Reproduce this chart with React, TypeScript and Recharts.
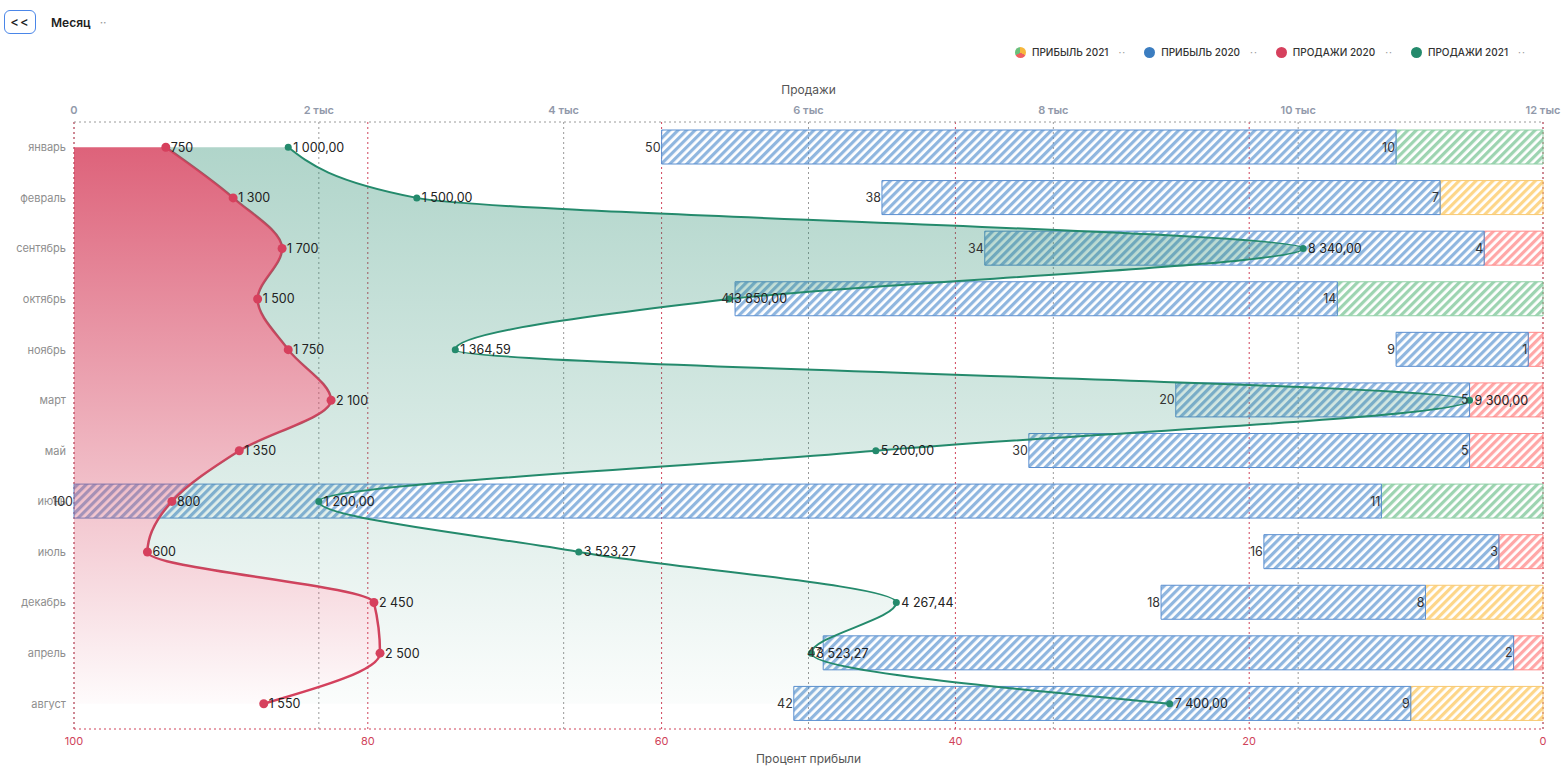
import React from "react";
import { ComposedChart, Bar, Area, XAxis, YAxis, CartesianGrid, LabelList, Cell } from "recharts";

const months = ["январь", "февраль", "сентябрь", "октябрь", "ноябрь", "март", "май", "июнь", "июль", "декабрь", "апрель", "август"];
const sales2020 = [750, 1300, 1700, 1500, 1750, 2100, 1350, 800, 600, 2450, 2500, 1550];
const sales2021 = [1000, 1500, 8340, 3850, 1364.59, 9300, 5200, 1200, 3523.27, 4267.44, 3523.27, 7400];
const profit2020 = [50, 38, 34, 41, 9, 20, 30, 100, 16, 18, 47, 42];
const profit2021 = [10, 7, 4, 14, 1, 5, 5, 11, 3, 8, 2, 9];

const salesTicks = [0, 2000, 4000, 6000, 8000, 10000, 12000];
const pctTicks = [0, 20, 40, 60, 80, 100];

const data = months.map((month, i) => ({
  month,
  s2020: sales2020[i],
  s2021: sales2021[i],
  p2020: profit2020[i],
  p2021: profit2021[i],
}));

const RED = "#d6405d";
const GREEN = "#248a6c";
const AXIS_RED = "#d0435a";
const FONT = "Inter, 'Noto Sans', sans-serif";

const fmtInt = new Intl.NumberFormat("ru-RU", { maximumFractionDigits: 0 });
const fmtDec = new Intl.NumberFormat("ru-RU", { minimumFractionDigits: 2, maximumFractionDigits: 2 });

const HATCH = {
  blue: { fill: "rgba(74,137,204,0.62)", stroke: "#5b8fd0" },
  green: { fill: "rgba(60,170,100,0.5)", stroke: "#8fd0a6" },
  yellow: { fill: "rgba(252,180,40,0.55)", stroke: "#f8c870" },
  red: { fill: "rgba(255,80,80,0.5)", stroke: "#ff8a8a" },
};

function profitTone(v: number): keyof typeof HATCH {
  if (v >= 10) return "green";
  if (v >= 6) return "yellow";
  return "red";
}

function BarValue(props: any) {
  const x = Number(props.x);
  const w = Number(props.width);
  const y = Number(props.y);
  const h = Number(props.height);
  const left = Math.min(x, x + w);
  return (
    <text x={left - 1} y={y + h / 2} dy={4.5} textAnchor="end" fontSize={12.5} fill="#333">
      {props.value}
    </text>
  );
}

function LegendItem({ label, icon }: { label: string; icon: React.ReactNode }) {
  return (
    <div style={{ display: "flex", alignItems: "center", marginRight: 18 }}>
      {icon}
      <span style={{ marginLeft: 6, fontSize: 10, fontWeight: 500, color: "#333" }}>{label}</span>
      <span style={{ marginLeft: 10, fontSize: 10, color: "#999", letterSpacing: 1 }}>··</span>
    </div>
  );
}

const dotIcon = (color: string) => (
  <span style={{ width: 11, height: 11, borderRadius: "50%", background: color, display: "inline-block" }} />
);

export default function App() {
  return (
    <div style={{ position: "absolute", left: 0, top: 0, width: 1561, height: 774, background: "#fff", fontFamily: FONT, overflow: "hidden" }}>
      <div
        style={{
          position: "absolute", left: 4, top: 10, width: 30, height: 22, border: "1px solid #4a86e8", borderRadius: 6,
          display: "flex", alignItems: "center", justifyContent: "center", fontSize: 13, fontWeight: 500, color: "#222", letterSpacing: 1,
        }}
      >
        {"<<"}
      </div>
      <div style={{ position: "absolute", left: 51, top: 15, fontSize: 12, fontWeight: 600, color: "#222" }}>
        Месяц <span style={{ marginLeft: 6, color: "#999", fontWeight: 400 }}>··</span>
      </div>

      <div style={{ position: "absolute", left: 1015, top: 46, display: "flex" }}>
        <LegendItem
          label="ПРИБЫЛЬ 2021"
          icon={<span style={{ width: 11, height: 11, borderRadius: "50%", display: "inline-block", background: "conic-gradient(#f6b73c 0 120deg, #f06060 120deg 240deg, #6bbf7a 240deg 360deg)" }} />}
        />
        <LegendItem label="ПРИБЫЛЬ 2020" icon={dotIcon("#3b7dc0")} />
        <LegendItem label="ПРОДАЖИ 2020" icon={dotIcon(RED)} />
        <LegendItem label="ПРОДАЖИ 2021" icon={dotIcon(GREEN)} />
      </div>

      <div style={{ position: "absolute", left: 0, width: 1617, top: 82, textAlign: "center", fontSize: 12, color: "#555" }}>Продажи</div>
      <div style={{ position: "absolute", left: 0, width: 1617, top: 751, textAlign: "center", fontSize: 12, color: "#555" }}>Процент прибыли</div>

      <ComposedChart
        width={1561}
        height={774}
        data={data}
        layout="vertical"
        margin={{ top: 92, right: 18, bottom: 15, left: 8 }}
        barSize={34}
      >
        <defs>
          {Object.entries(HATCH).map(([k, v]) => (
            <pattern key={k} id={`hatch-${k}`} patternUnits="userSpaceOnUse" width={6} height={6} patternTransform="rotate(45)">
              <rect x={0} y={0} width={3.2} height={6} fill={v.fill} />
            </pattern>
          ))}
          <linearGradient id="gradRed" x1="0" y1="0" x2="0" y2="1">
            <stop offset="0" stopColor={RED} stopOpacity={0.82} />
            <stop offset="1" stopColor={RED} stopOpacity={0.02} />
          </linearGradient>
          <linearGradient id="gradGreen" x1="0" y1="0" x2="0" y2="1">
            <stop offset="0" stopColor={GREEN} stopOpacity={0.36} />
            <stop offset="1" stopColor={GREEN} stopOpacity={0.02} />
          </linearGradient>
        </defs>

        <CartesianGrid xAxisId="sales" horizontal={false} stroke="#9a9a9a" strokeDasharray="2 3" />
        <CartesianGrid xAxisId="pct" horizontal={false} stroke={AXIS_RED} strokeDasharray="2 3" />

        <XAxis
          xAxisId="sales"
          orientation="top"
          type="number"
          domain={[0, 12000]}
          ticks={salesTicks}
          height={30}
          tickFormatter={(v: number) => (v === 0 ? "0" : `${v / 1000} тыс`)}
          tick={{ fill: "#9199aa", fontSize: 11, fontWeight: 600 }}
          tickLine={false}
          axisLine={{ stroke: "#9a9a9a", strokeDasharray: "2 3" }}
        />
        <XAxis
          xAxisId="pct"
          orientation="bottom"
          type="number"
          reversed
          domain={[0, 100]}
          ticks={pctTicks}
          height={30}
          tick={{ fill: AXIS_RED, fontSize: 11 }}
          tickLine={false}
          axisLine={{ stroke: AXIS_RED, strokeDasharray: "2 3" }}
        />
        <YAxis
          type="category"
          dataKey="month"
          width={66}
          tick={{ fill: "#8e8e8e", fontSize: 11 }}
          tickLine={false}
          axisLine={false}
        />

        <Bar xAxisId="pct" dataKey="p2021" stackId="p" isAnimationActive={false} zIndex={100}>
          {data.map((d, i) => {
            const t = profitTone(d.p2021);
            return <Cell key={i} fill={`url(#hatch-${t})`} stroke={HATCH[t].stroke} strokeWidth={1} />;
          })}
          <LabelList dataKey="p2021" content={BarValue} />
        </Bar>
        <Bar
          xAxisId="pct"
          dataKey={(d: any) => Math.min(d.p2020, 100 - d.p2021)}
          stackId="p"
          fill="url(#hatch-blue)"
          stroke={HATCH.blue.stroke}
          strokeWidth={1}
          isAnimationActive={false}
          zIndex={100}
        >
          <LabelList dataKey="p2020" content={BarValue} />
        </Bar>

        <Area
          xAxisId="sales"
          dataKey="s2020"
          stackId="s"
          type="monotone"
          stroke={RED}
          strokeWidth={2.5}
          fill="url(#gradRed)"
          fillOpacity={1}
          dot={{ r: 4.5, fill: RED, stroke: "none" }}
          activeDot={false}
          isAnimationActive={false}
          zIndex={300}
        >
          <LabelList dataKey="s2020" position="right" offset={5} formatter={(v: any) => fmtInt.format(Number(v))} fontSize={12.5} fill="#222" />
        </Area>
        <Area
          xAxisId="sales"
          dataKey="s2021"
          stackId="s"
          type="monotone"
          stroke={GREEN}
          strokeWidth={2}
          fill="url(#gradGreen)"
          fillOpacity={1}
          dot={{ r: 3.5, fill: GREEN, stroke: "none" }}
          activeDot={false}
          isAnimationActive={false}
          zIndex={300}
        >
          <LabelList dataKey="s2021" position="right" offset={5} formatter={(v: any) => fmtDec.format(Number(v))} fontSize={12.5} fill="#222" />
        </Area>
      </ComposedChart>
    </div>
  );
}
